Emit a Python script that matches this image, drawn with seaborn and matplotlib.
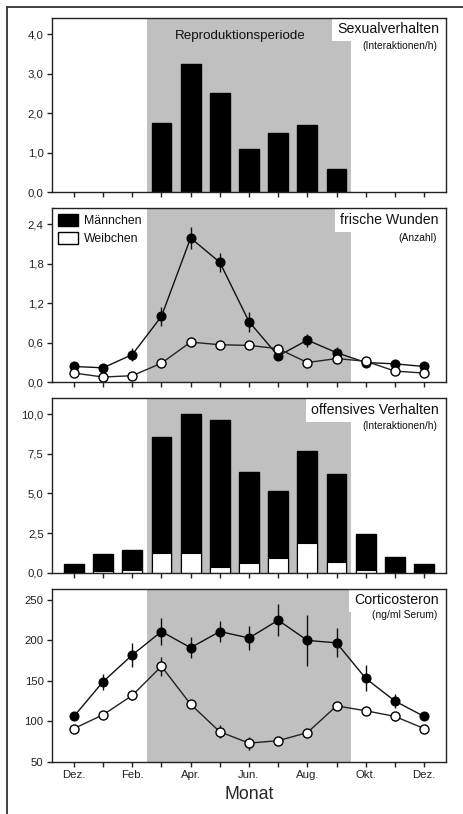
import numpy as np
import pandas as pd
import matplotlib
matplotlib.use("Agg")
import matplotlib.pyplot as plt
from matplotlib.patches import Patch
from matplotlib.lines import Line2D
import seaborn as sns

# ---------------- data ----------------
month_pos = list(range(13))
month_labels = ["Dez.", "", "Feb.", "", "Apr.", "", "Jun.", "", "Aug.", "", "Okt.", "", "Dez."]

# Panel 1: Sexualverhalten (only Mar..Sep)
sex_pos = [3, 4, 5, 6, 7, 8, 9]
sex_vals = [1.75, 3.25, 2.5, 1.1, 1.5, 1.7, 0.6]

# Panel 2: frische Wunden
wound_m = [0.24, 0.22, 0.42, 1.0, 2.19, 1.82, 0.92, 0.40, 0.64, 0.45, 0.30, 0.28, 0.24]
wound_m_err = [0.03, 0.03, 0.10, 0.15, 0.16, 0.14, 0.15, 0.06, 0.10, 0.09, 0.04, 0.03, 0.03]
wound_f = [0.14, 0.08, 0.10, 0.29, 0.61, 0.57, 0.56, 0.51, 0.30, 0.36, 0.32, 0.17, 0.14]
wound_f_err = [0.02, 0.02, 0.02, 0.03, 0.04, 0.05, 0.05, 0.06, 0.03, 0.06, 0.05, 0.03, 0.02]

# Panel 3: offensives Verhalten
off_m = [0.57, 1.15, 1.45, 8.55, 10.0, 9.65, 6.38, 5.18, 7.7, 6.2, 2.45, 1.02, 0.57]
off_f = [0.0, 0.1, 0.15, 1.25, 1.25, 0.35, 0.6, 0.9, 1.9, 0.65, 0.15, 0.0, 0.0]

# Panel 4: Corticosteron
cort_m = [106, 149, 182, 211, 191, 211, 203, 225, 200, 197, 153, 125, 106]
cort_m_err = [4, 10, 15, 17, 13, 13, 15, 20, 32, 18, 16, 9, 4]
cort_f = [91, 108, 132, 168, 121, 87, 73, 76, 86, 119, 113, 106, 91]
cort_f_err = [3, 3, 6, 12, 4, 8, 8, 3, 3, 3, 3, 6, 3]

yt1 = [0, 1, 2, 3, 4];            yl1 = ["0,0", "1,0", "2,0", "3,0", "4,0"]
yt2 = [0, 0.6, 1.2, 1.8, 2.4];    yl2 = ["0,0", "0,6", "1,2", "1,8", "2,4"]
yt3 = [0, 2.5, 5, 7.5, 10];       yl3 = ["0,0", "2,5", "5,0", "7,5", "10,0"]
yt4 = [50, 100, 150, 200, 250];   yl4 = ["50", "100", "150", "200", "250"]

# ---------------- style ----------------
sns.set_style("ticks")
plt.rcParams["font.family"] = ["Liberation Sans", "DejaVu Sans"]
plt.rcParams["axes.edgecolor"] = "#222222"
plt.rcParams["axes.linewidth"] = 1.0
plt.rcParams["xtick.color"] = "#222222"
plt.rcParams["ytick.color"] = "#222222"
plt.rcParams["text.color"] = "#111111"

SHADE = "#c0c0c0"
TICKFS = 8.2

fig = plt.figure(figsize=(4.63, 8.14), dpi=100)
W, H = 463.0, 814.0

def axes_px(left, top, right, bottom):
    return fig.add_axes([left / W, 1 - bottom / H, (right - left) / W, (bottom - top) / H])

ax1 = axes_px(52, 18, 446, 192.3)
ax2 = axes_px(52, 208.3, 446, 382.3)
ax3 = axes_px(52, 398.3, 446, 572.7)
ax4 = axes_px(52, 589, 446, 761.7)

def common(ax, yt, yl, ylim, bottom=False):
    ax.axvspan(2.5, 9.5, color=SHADE, lw=0, zorder=0)
    ax.set_xlim(-0.75, 12.75)
    ax.set_ylim(*ylim)
    ax.set_xticks(month_pos)
    if bottom:
        ax.set_xticklabels(month_labels, fontsize=TICKFS)
    else:
        ax.set_xticklabels([])
    ax.set_yticks(yt)
    ax.set_yticklabels(yl, fontsize=TICKFS)
    ax.tick_params(axis="both", direction="out", length=3.5, width=1, pad=2.5)
    ax.set_xlabel("")
    ax.set_ylabel("")
    for s in ax.spines.values():
        s.set_visible(True)
        s.set_linewidth(1.0)
        s.set_zorder(10)

def titles(ax, main, sub, ymain, ysub):
    ax.text(0.982, ymain, main, transform=ax.transAxes, ha="right", va="center",
            fontsize=10.2, zorder=6,
            bbox=dict(boxstyle="square,pad=0.35", facecolor="white", edgecolor="none"))
    ax.text(0.977, ysub, sub, transform=ax.transAxes, ha="right", va="center",
            fontsize=7.4, zorder=6)

# ---- Panel 1
df1 = pd.DataFrame({"pos": sex_pos, "val": sex_vals})
sns.barplot(data=df1, x="pos", y="val", native_scale=True, color="black",
            edgecolor="black", saturation=1, width=0.68, errorbar=None, ax=ax1, zorder=3)
common(ax1, yt1, yl1, (0, 4.41))
titles(ax1, "Sexualverhalten", "(Interaktionen/h)", 0.937, 0.839)
ax1.text(5.7, 0.897, "Reproduktionsperiode", transform=ax1.get_xaxis_transform(),
         ha="center", va="center", fontsize=9.6, zorder=6)

# ---- Panel 2
df2 = pd.DataFrame({"pos": month_pos, "m": wound_m, "f": wound_f})
ax2.errorbar(month_pos, wound_m, yerr=wound_m_err, fmt="none", ecolor="#111111",
             elinewidth=1, capsize=0, zorder=3)
sns.lineplot(data=df2, x="pos", y="m", color="#111111", linewidth=1, marker="o",
             markersize=6.5, markerfacecolor="black", markeredgecolor="black", ax=ax2, zorder=4)
ax2.errorbar(month_pos, wound_f, yerr=wound_f_err, fmt="none", ecolor="#111111",
             elinewidth=1, capsize=0, zorder=5)
sns.lineplot(data=df2, x="pos", y="f", color="#222222", linewidth=1, marker="o",
             markersize=6.5, markerfacecolor="white", markeredgecolor="black",
             markeredgewidth=1, ax=ax2, zorder=5)
common(ax2, yt2, yl2, (0, 2.64))
titles(ax2, "frische Wunden", "(Anzahl)", 0.933, 0.831)
handles = [Patch(facecolor="black", edgecolor="black", label="Männchen"),
           Patch(facecolor="white", edgecolor="black", label="Weibchen")]
ax2.legend(handles=handles, loc="upper left", frameon=False, fontsize=8.8,
           handlelength=1.65, handleheight=1.1, handletextpad=0.55,
           labelspacing=0.45, borderaxespad=0.25, borderpad=0.2)

# ---- Panel 3
df3 = pd.DataFrame({"pos": month_pos, "m": off_m, "f": off_f})
sns.barplot(data=df3, x="pos", y="m", native_scale=True, color="black",
            edgecolor="black", saturation=1, width=0.68, errorbar=None, ax=ax3, zorder=3)
sns.barplot(data=df3, x="pos", y="f", native_scale=True, color="white",
            edgecolor="black", linewidth=0.8, saturation=1, width=0.68, errorbar=None,
            ax=ax3, zorder=4)
common(ax3, yt3, yl3, (0, 11.0))
titles(ax3, "offensives Verhalten", "(Interaktionen/h)", 0.933, 0.841)

# ---- Panel 4
df4 = pd.DataFrame({"pos": month_pos, "m": cort_m, "f": cort_f})
ax4.errorbar(month_pos, cort_m, yerr=cort_m_err, fmt="none", ecolor="#111111",
             elinewidth=1, capsize=0, zorder=3)
sns.lineplot(data=df4, x="pos", y="m", color="#111111", linewidth=1, marker="o",
             markersize=6.5, markerfacecolor="black", markeredgecolor="black", ax=ax4, zorder=4)
ax4.errorbar(month_pos, cort_f, yerr=cort_f_err, fmt="none", ecolor="#111111",
             elinewidth=1, capsize=0, zorder=3)
sns.lineplot(data=df4, x="pos", y="f", color="#222222", linewidth=1, marker="o",
             markersize=6.5, markerfacecolor="white", markeredgecolor="black",
             markeredgewidth=1, ax=ax4, zorder=5)
common(ax4, yt4, yl4, (50, 263.6), bottom=True)
titles(ax4, "Corticosteron", "(ng/ml Serum)", 0.936, 0.849)
ax4.set_xlabel("Monat", fontsize=12.8, labelpad=4)

# outer frame (left and top lines)
fig.add_artist(Line2D([7 / W, 7 / W], [0, 1 - 7 / H], transform=fig.transFigure,
                      color="#333333", linewidth=1.3))
fig.add_artist(Line2D([7 / W, 1], [1 - 7 / H, 1 - 7 / H], transform=fig.transFigure,
                      color="#333333", linewidth=1.3))

fig.savefig("out.png", dpi=100)
